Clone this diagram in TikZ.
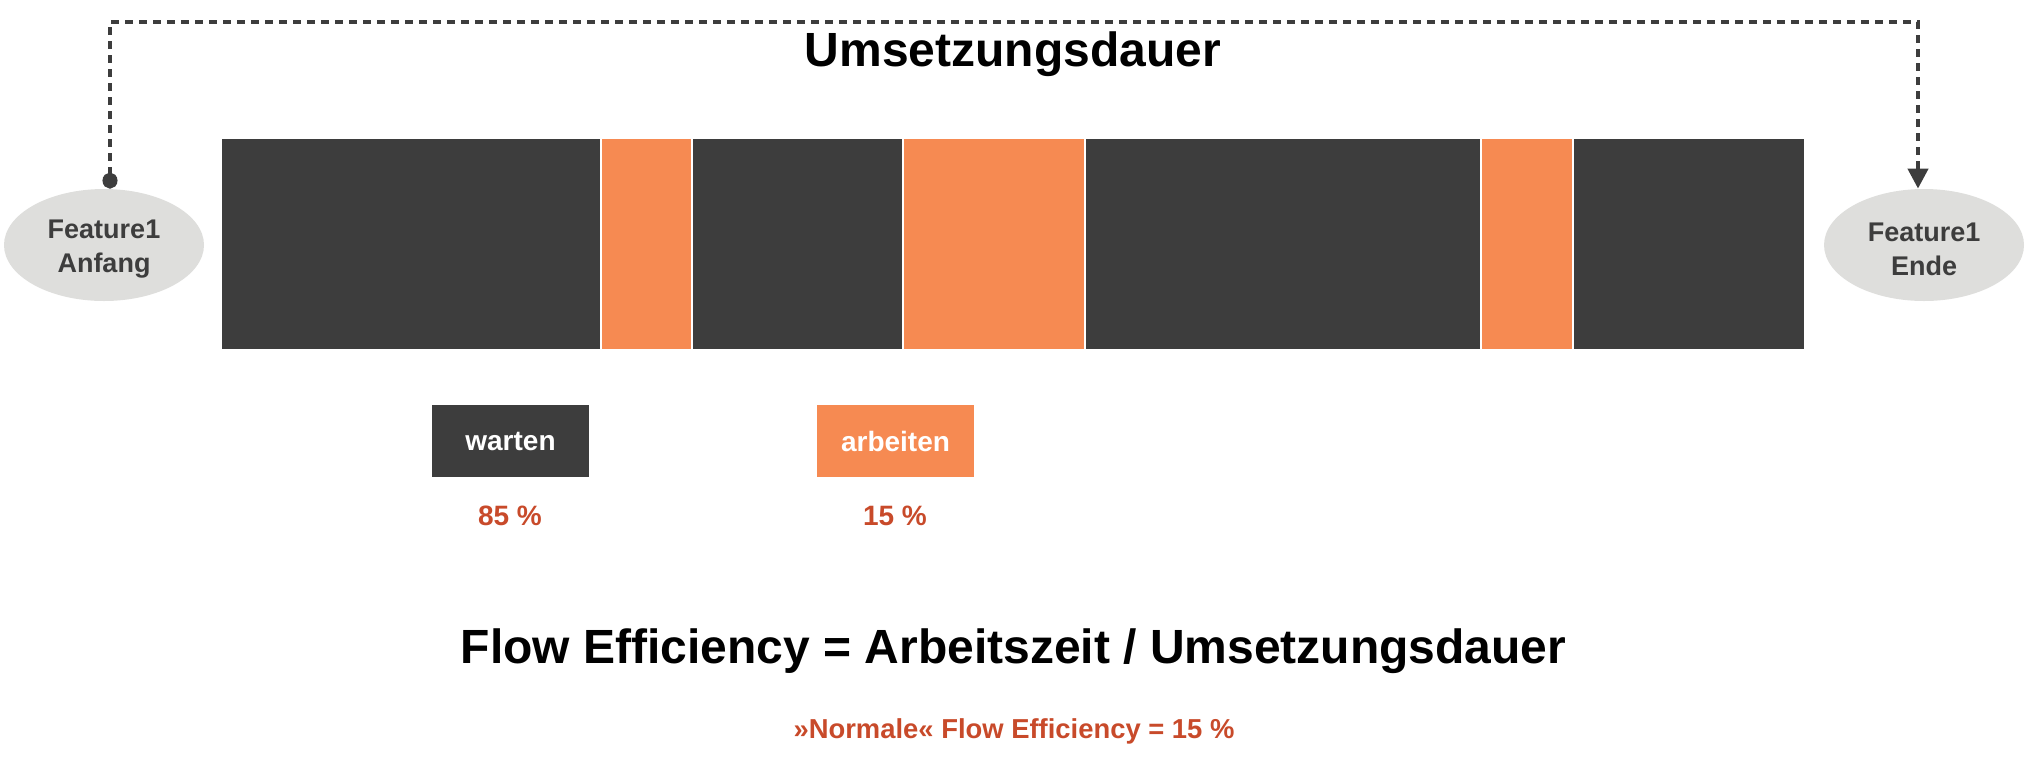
\documentclass[tikz,border=0pt]{standalone}
\usepackage{fontspec}
\setmainfont{Liberation Sans}
\usetikzlibrary{arrows.meta,shapes.geometric}
\definecolor{darkbar}{HTML}{3D3D3D}
\definecolor{orangebar}{HTML}{F68A52}
\definecolor{ellfill}{HTML}{DEDEDC}
\definecolor{redtext}{HTML}{C84A2A}
\tikzset{
  darkseg/.style={fill=darkbar},
  orangeseg/.style={fill=orangebar},
  endpoint/.style={ellipse, fill=ellfill, minimum width=100pt, minimum height=56pt, inner sep=0pt},
  endtext/.style={align=center, inner sep=0pt, text=darkbar, font=\fontsize{13.5}{17}\selectfont\bfseries},
  legendbox/.style={minimum width=78.5pt, minimum height=36pt, inner sep=0pt, text=white,
    font=\fontsize{14}{16}\selectfont\bfseries},
  pct/.style={text=redtext, font=\fontsize{14}{16}\selectfont\bfseries},
  bigtext/.style={anchor=base, inner sep=0pt, font=\fontsize{24}{28}\selectfont\bfseries},
  conn/.style={draw=darkbar, line width=2.1pt, dash pattern=on 4pt off 3pt,
    {Circle[length=8pt,width=7.5pt]}-{Triangle[length=10pt,width=10pt]}}
}
\begin{document}
\begin{tikzpicture}[x=0.5pt,y=-0.5pt]
\useasboundingbox (0,0) rectangle (2028,756);
% bar
\fill[darkseg] (222,139) rectangle (600,349);
\fill[orangeseg] (602,139) rectangle (691,349);
\fill[darkseg] (693,139) rectangle (902,349);
\fill[orangeseg] (904,139) rectangle (1084,349);
\fill[darkseg] (1086,139) rectangle (1480,349);
\fill[orangeseg] (1482,139) rectangle (1572,349);
\fill[darkseg] (1574,139) rectangle (1804,349);
% end points
\node[endpoint] (start) at (104,245) {};
\node[endpoint] (end) at (1924,245) {};
\node[endtext] (starttext) at ([yshift=-2pt]start.center) {Feature1\\Anfang};
\node[endtext] (endtext) at ([yshift=-2pt]end.center) {Feature1\\Ende};
\coordinate (top) at (1000,22);
\draw[conn] ([xshift=3pt]start.north) -- ([xshift=3pt]start.north |- top)
  -- ([xshift=-3pt]end.north |- top) -- ([xshift=-3pt]end.north);
% title
\node[bigtext] (title) at (1013,66) {Umsetzungsdauer};
% legend
\node[legendbox, fill=darkbar] (warten) at (510.5,441) {warten};
\node[legendbox, fill=orangebar] (arbeiten) at (895.5,441) {arbeiten};
\node[pct] (p85) at (510,516) {85 \%};
\node[pct] (p15) at (895,516) {15 \%};
% formula
\node[bigtext] (formula) at (1013.5,663) {Flow Efficiency = Arbeitszeit / Umsetzungsdauer};
\node[anchor=base, inner sep=0pt, text=redtext, font=\fontsize{13.7}{16}\selectfont\bfseries] (normal) at (1014,738) {»Normale« Flow Efficiency = 15 \%};
\end{tikzpicture}
\end{document}
